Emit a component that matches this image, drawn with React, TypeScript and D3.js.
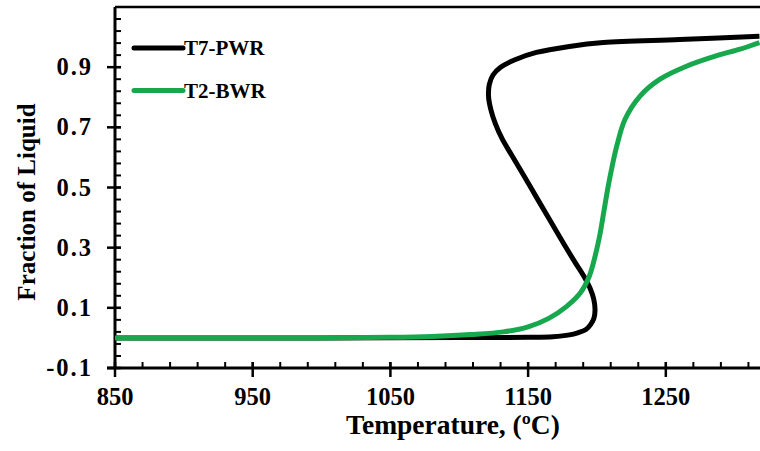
import React from "react";
import * as d3 from "d3";

// T7-PWR (loops back on itself, so kept as ordered path points)
const pwrTemp = [850, 1000, 1100, 1150, 1168, 1180, 1186, 1192, 1195.5, 1197.8, 1198.6, 1197.6, 1195, 1190.5, 1184, 1176, 1164.7, 1156, 1147.7, 1138, 1131, 1126.2, 1123, 1121.3, 1121.8, 1124.5, 1130, 1140, 1156, 1180, 1204.6, 1260, 1318];
const pwrFrac = [0, 0, 0.001, 0.002, 0.004, 0.01, 0.017, 0.028, 0.045, 0.065, 0.093, 0.13, 0.165, 0.205, 0.252, 0.312, 0.4, 0.468, 0.533, 0.608, 0.663, 0.712, 0.758, 0.8, 0.842, 0.874, 0.9, 0.924, 0.949, 0.969, 0.982, 0.992, 1.003];

// T2-BWR
const bwrTemp = [850, 1000, 1050, 1080, 1108, 1132, 1150, 1165, 1178, 1188, 1194, 1198, 1202, 1205, 1208, 1211, 1214.5, 1220.4, 1231.3, 1245.8, 1265, 1287, 1304, 1318];
const bwrFrac = [0, 0, 0.002, 0.005, 0.011, 0.02, 0.037, 0.065, 0.105, 0.15, 0.2, 0.26, 0.34, 0.42, 0.5, 0.57, 0.64, 0.727, 0.804, 0.86, 0.903, 0.938, 0.96, 0.982];

const xTickValues = [850, 950, 1050, 1150, 1250];
const yTickValues = [-0.1, 0.1, 0.3, 0.5, 0.7, 0.9];
const seriesNames = ["T7-PWR", "T2-BWR"];
const seriesColors = ["#000000", "#17a84e"];

const W = 760;
const H = 451;
const left = 115;
const top = 7;
const bottom = 368;
const right = 760;
const font = "'Liberation Serif', 'Times New Roman', serif";

export default function App() {
  const x = d3.scaleLinear().domain([850, 1318.4]).range([left, right]);
  const y = d3.scaleLinear().domain([-0.1, 1.1]).range([bottom, top]);

  const line = d3
    .line<[number, number]>()
    .x((d) => x(d[0]))
    .y((d) => y(d[1]))
    .curve(d3.curveCatmullRom.alpha(0.5));

  const pwr = pwrTemp.map((t, i) => [t, pwrFrac[i]] as [number, number]);
  const bwr = bwrTemp.map((t, i) => [t, bwrFrac[i]] as [number, number]);

  const xMinor = d3.range(0, 24).map((i) => 850 + i * 20);
  const yMinor = d3.range(0, 31).map((i) => -0.1 + i * 0.04);

  return (
    <svg
      width={W}
      height={H}
      style={{ position: "absolute", left: 0, top: 0, background: "#fff" }}
    >
      <defs>
        <clipPath id="plot">
          <rect x={left} y={top} width={right - left} height={bottom - top} />
        </clipPath>
      </defs>

      {/* minor ticks, pointing inward */}
      {xMinor.map((t) => (
        <line key={"xm" + t} x1={x(t)} x2={x(t)} y1={bottom} y2={bottom - 6} stroke="#000" strokeWidth={2} />
      ))}
      {yMinor.map((v, i) => (
        <line key={"ym" + i} x1={left} x2={left + 6} y1={y(v)} y2={y(v)} stroke="#000" strokeWidth={2} />
      ))}

      {/* major ticks */}
      {xTickValues.map((t) => (
        <g key={"xt" + t}>
          <line x1={x(t)} x2={x(t)} y1={bottom - 6} y2={bottom + 9} stroke="#000" strokeWidth={2.5} />
          <text
            x={x(t)}
            y={405}
            textAnchor="middle"
            fontFamily={font}
            fontWeight="bold"
            fontSize={24.5}
          >
            {t}
          </text>
        </g>
      ))}
      {yTickValues.map((v) => (
        <g key={"yt" + v}>
          <line x1={left - 8} x2={left + 6} y1={y(v)} y2={y(v)} stroke="#000" strokeWidth={2.5} />
          <text
            x={93}
            y={y(v) + 8}
            textAnchor="end"
            fontFamily={font}
            fontWeight="bold"
            fontSize={24.5}
            letterSpacing={2}
          >
            {v.toFixed(1)}
          </text>
        </g>
      ))}

      {/* frame */}
      <line x1={left} x2={right} y1={top} y2={top} stroke="#000" strokeWidth={2.5} />
      <line x1={left} x2={left} y1={top} y2={bottom} stroke="#000" strokeWidth={3} />
      <line x1={left - 8} x2={right} y1={bottom} y2={bottom} stroke="#000" strokeWidth={3} />

      {/* curves */}
      <g clipPath="url(#plot)">
        <path d={line(pwr) ?? ""} fill="none" stroke={seriesColors[0]} strokeWidth={5} strokeLinejoin="round" />
        <path d={line(bwr) ?? ""} fill="none" stroke={seriesColors[1]} strokeWidth={5} strokeLinejoin="round" />
      </g>

      {/* legend */}
      {seriesNames.map((name, i) => (
        <g key={name} transform={`translate(134, ${48 + i * 42.5})`}>
          <line x1={0} x2={49} y1={0} y2={0} stroke={seriesColors[i]} strokeWidth={5} strokeLinecap="round" />
          <text x={50} y={7} fontFamily={font} fontWeight="bold" fontSize={21}>
            {name}
          </text>
        </g>
      ))}

      {/* axis titles */}
      <text
        x={453}
        y={434}
        textAnchor="middle"
        fontFamily={font}
        fontWeight="bold"
        fontSize={27.5}
      >
        Temperature, (ºC)
      </text>
      <text
        transform="translate(35, 202) rotate(-90)"
        textAnchor="middle"
        fontFamily={font}
        fontWeight="bold"
        fontSize={25}
      >
        Fraction of Liquid
      </text>
    </svg>
  );
}
